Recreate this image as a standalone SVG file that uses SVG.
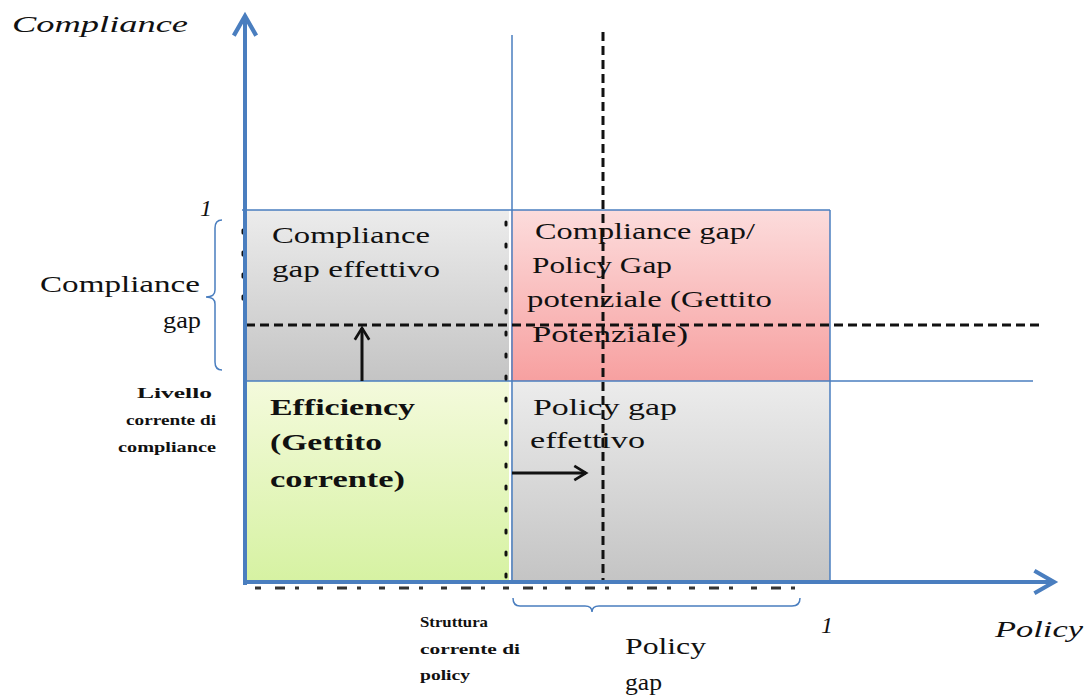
<svg xmlns="http://www.w3.org/2000/svg" width="1089" height="696" viewBox="0 0 1089 696">
<style>
text{font-family:"Liberation Serif","Times New Roman",serif;fill:#111}
.lbl{font-size:23px}
.sm{font-size:15px;font-weight:bold}
.it{font-style:italic;font-size:24px}
.blue{stroke:#4a7ebf;fill:none}
.dash{stroke:#111;stroke-width:3;stroke-dasharray:9 5;fill:none}
.dot{stroke:#111;stroke-width:3;stroke-dasharray:3 19;stroke-linecap:round;fill:none}
</style>
<defs>
<linearGradient id="gGrey" x1="0" y1="0" x2="0" y2="1"><stop offset="0" stop-color="#ececec"/><stop offset="1" stop-color="#c4c4c4"/></linearGradient>
<linearGradient id="gPink" x1="0" y1="0" x2="0" y2="1"><stop offset="0" stop-color="#fcdcdc"/><stop offset="1" stop-color="#f7a0a0"/></linearGradient>
<linearGradient id="gGreen" x1="0" y1="0" x2="0" y2="1"><stop offset="0" stop-color="#f4fadc"/><stop offset="1" stop-color="#d6f2a2"/></linearGradient>
<marker id="blueHead" viewBox="0 0 20 20" refX="16" refY="10" markerWidth="7" markerHeight="7" orient="auto" markerUnits="strokeWidth"><path d="M2,2 L16,10 L2,18" fill="none" stroke="#4a7ebf" stroke-width="3"/></marker>
<marker id="blackHead" viewBox="0 0 20 20" refX="16" refY="10" markerWidth="6" markerHeight="6" orient="auto" markerUnits="strokeWidth"><path d="M3,2 L16,10 L3,18" fill="none" stroke="#111" stroke-width="3"/></marker>
</defs>

<g id="quadrants">
<rect id="q-compliance-gap" x="245" y="210" width="264" height="171" fill="url(#gGrey)"/>
<rect id="q-potential" x="511" y="210" width="319" height="171" fill="url(#gPink)"/>
<rect id="q-efficiency" x="245" y="381" width="264" height="201" fill="url(#gGreen)"/>
<rect id="q-policy-gap" x="511" y="381" width="319" height="201" fill="url(#gGrey)"/>
</g>

<g id="connectors">
<line class="blue" x1="242" y1="210" x2="830" y2="210" stroke-width="1.5"/>
<line class="blue" x1="830" y1="210" x2="830" y2="582" stroke-width="1.5"/>
<line class="blue" x1="512" y1="35" x2="512" y2="582" stroke-width="1.5"/>
<line class="blue" x1="245" y1="381" x2="1033" y2="381" stroke-width="1.5"/>
<line class="dot" x1="506" y1="222" x2="506" y2="582"/>
<line class="dot" x1="243" y1="230" x2="243" y2="300"/>
<line x1="245" y1="300" x2="245" y2="381" stroke="#111" stroke-width="4"/>
<line class="dash" x1="603" y1="32" x2="603" y2="582"/>
<line class="dash" x1="246" y1="325" x2="1040" y2="325"/>
<line x1="362" y1="381" x2="362" y2="328" stroke="#111" stroke-width="3" marker-end="url(#blackHead)"/>
<line x1="512" y1="473" x2="586" y2="473" stroke="#111" stroke-width="3" marker-end="url(#blackHead)"/>
<line x1="255" y1="588" x2="800" y2="588" stroke="#111" stroke-width="3" stroke-dasharray="6 14 10 10 4 18" opacity="0.85"/>
<line class="blue" x1="245" y1="585" x2="245" y2="16" stroke-width="4" marker-end="url(#blueHead)"/>
<line class="blue" x1="243" y1="582" x2="1054" y2="582" stroke-width="4" marker-end="url(#blueHead)"/>
<path class="blue" stroke-width="1.5" d="M222,220 Q215,220 215,228 L215,290 Q215,297 206,297 Q215,297 215,304 L215,362 Q215,370 222,370"/>
<path class="blue" stroke-width="1.5" d="M513,598 Q513,606 520,606 L585,606 Q592,606 592,612 Q592,606 599,606 L792,606 Q800,606 800,598"/>
</g>

<g id="axis-labels">
<text class="it" x="12" y="32" textLength="176" lengthAdjust="spacingAndGlyphs">Compliance</text>
<text class="it" x="200" y="216">1</text>
<text class="it" x="821" y="633">1</text>
<text class="it" x="995" y="637" textLength="88" lengthAdjust="spacingAndGlyphs">Policy</text>
</g>

<g id="label-compliance-gap">
<text class="lbl" x="40" y="292" textLength="160" lengthAdjust="spacingAndGlyphs">Compliance</text>
<text class="lbl" x="163" y="328" textLength="38" lengthAdjust="spacingAndGlyphs">gap</text>
</g>
<g id="label-livello">
<text class="sm" x="137" y="398" textLength="75" lengthAdjust="spacingAndGlyphs">Livello</text>
<text class="sm" x="126" y="425" textLength="90" lengthAdjust="spacingAndGlyphs">corrente di</text>
<text class="sm" x="118" y="452" textLength="98" lengthAdjust="spacingAndGlyphs">compliance</text>
</g>
<g id="text-compliance-gap-effettivo">
<text class="lbl" x="272" y="243" textLength="158" lengthAdjust="spacingAndGlyphs">Compliance</text>
<text class="lbl" x="272" y="277" textLength="168" lengthAdjust="spacingAndGlyphs">gap effettivo</text>
</g>
<g id="text-potential">
<text class="lbl" x="535" y="239" textLength="220" lengthAdjust="spacingAndGlyphs">Compliance gap/</text>
<text class="lbl" x="532" y="273" textLength="140" lengthAdjust="spacingAndGlyphs">Policy Gap</text>
<text class="lbl" x="527" y="307" textLength="245" lengthAdjust="spacingAndGlyphs">potenziale (Gettito</text>
<text class="lbl" x="532" y="342" textLength="156" lengthAdjust="spacingAndGlyphs">Potenziale)</text>
</g>
<g id="text-efficiency">
<text class="lbl" x="270" y="415" font-weight="bold" textLength="145" lengthAdjust="spacingAndGlyphs">Efficiency</text>
<text class="lbl" x="270" y="450" font-weight="bold" textLength="112" lengthAdjust="spacingAndGlyphs">(Gettito</text>
<text class="lbl" x="270" y="487" font-weight="bold" textLength="135" lengthAdjust="spacingAndGlyphs">corrente)</text>
</g>
<g id="text-policy-gap-effettivo">
<text class="lbl" x="533" y="415" textLength="144" lengthAdjust="spacingAndGlyphs">Policy gap</text>
<text class="lbl" x="530" y="448" textLength="115" lengthAdjust="spacingAndGlyphs">effettivo</text>
</g>
<g id="label-struttura">
<text class="sm" x="420" y="627" textLength="68" lengthAdjust="spacingAndGlyphs">Struttura</text>
<text class="sm" x="420" y="654" textLength="100" lengthAdjust="spacingAndGlyphs">corrente di</text>
<text class="sm" x="420" y="680" textLength="50" lengthAdjust="spacingAndGlyphs">policy</text>
</g>
<g id="label-policy-gap">
<text class="lbl" x="625" y="654" textLength="81" lengthAdjust="spacingAndGlyphs">Policy</text>
<text class="lbl" x="625" y="690" textLength="37" lengthAdjust="spacingAndGlyphs">gap</text>
</g>
</svg>
